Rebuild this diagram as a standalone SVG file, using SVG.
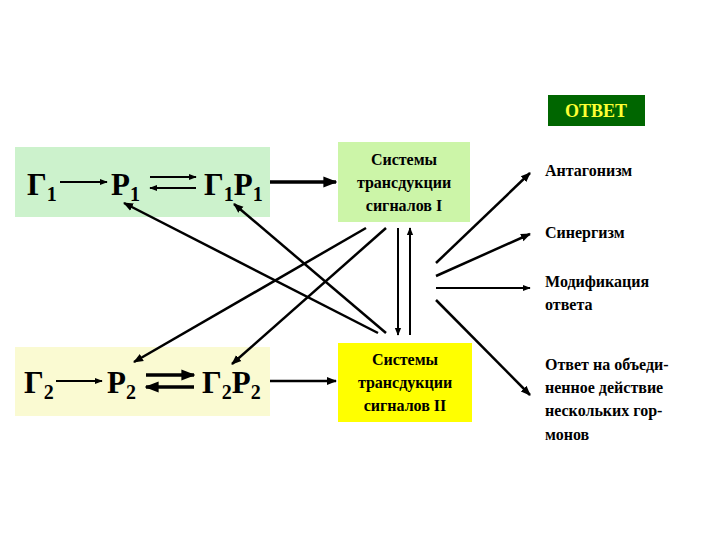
<svg xmlns="http://www.w3.org/2000/svg" width="720" height="540" viewBox="0 0 720 540">
<style>
text{font-family:"Liberation Serif",serif;font-weight:bold;fill:#000}
.big{font-size:31px}
.sub{font-size:20px}
.s{font-size:16px}
.c{text-anchor:middle}
line{stroke:#000;stroke-width:2.5}
.t{stroke-width:3.5}
.n{stroke-width:2}
</style>
<defs>
<marker id="a" viewBox="0 0 10 10" refX="9" refY="5" markerWidth="4" markerHeight="4" orient="auto-start-reverse" markerUnits="strokeWidth"><path d="M0,1 L10,5 L0,9 Z" fill="#000"/></marker>
</defs>
<rect width="720" height="540" fill="#fff"/>
<g id="row1">
<rect x="15" y="147" width="255" height="70" fill="#ccf2cc"/>
<text class="big" x="27" y="195">Г<tspan class="sub" dy="6">1</tspan></text>
<text class="big" x="111" y="195">Р<tspan class="sub" dy="6">1</tspan></text>
<text class="big" x="204" y="195">Г<tspan class="sub" dy="6">1</tspan><tspan dy="-6">Р</tspan><tspan class="sub" dy="6">1</tspan></text>
</g>
<g id="row2">
<rect x="15" y="347" width="255" height="69" fill="#fafad2"/>
<text class="big" x="24" y="393">Г<tspan class="sub" dy="6">2</tspan></text>
<text class="big" x="107" y="393">Р<tspan class="sub" dy="6">2</tspan></text>
<text class="big" x="202" y="393">Г<tspan class="sub" dy="6">2</tspan><tspan dy="-6">Р</tspan><tspan class="sub" dy="6">2</tspan></text>
</g>
<g id="sys1">
<rect x="338" y="142" width="132" height="80" fill="#ccf5a8"/>
<text class="s c" x="404" y="165">Системы</text>
<text class="s c" x="404" y="188">трансдукции</text>
<text class="s c" x="404" y="211">сигналов I</text>
</g>
<g id="sys2">
<rect x="338" y="343" width="134" height="79" fill="#ffff00"/>
<text class="s c" x="405" y="365">Системы</text>
<text class="s c" x="405" y="388">трансдукции</text>
<text class="s c" x="405" y="411">сигналов II</text>
</g>
<g id="otvet">
<rect x="548" y="95" width="97" height="31" fill="#006600"/>
<text class="s c" x="596" y="117" style="fill:#ffff33;font-size:18px">ОТВЕТ</text>
</g>
<g id="labels">
<text class="s" x="545" y="176">Антагонизм</text>
<text class="s" x="545" y="238">Синергизм</text>
<text class="s" x="545" y="287">Модификация</text>
<text class="s" x="545" y="310">ответа</text>
<text class="s" x="545" y="370">Ответ на объеди-</text>
<text class="s" x="545" y="393">ненное действие</text>
<text class="s" x="545" y="416">нескольких гор-</text>
<text class="s" x="545" y="440">монов</text>
</g>
<g id="connectors">
<line class="n" x1="60" y1="182" x2="107" y2="182" marker-end="url(#a)"/>
<line class="n" x1="150" y1="177" x2="196" y2="177" marker-end="url(#a)"/>
<line class="n" x1="196" y1="188" x2="150" y2="188" marker-end="url(#a)"/>
<line class="t" x1="270" y1="182" x2="336" y2="182" marker-end="url(#a)"/>
<line class="n" x1="56" y1="381" x2="102" y2="381" marker-end="url(#a)"/>
<line class="t" x1="146" y1="375" x2="194" y2="375" marker-end="url(#a)"/>
<line class="t" x1="194" y1="387" x2="146" y2="387" marker-end="url(#a)"/>
<line x1="270" y1="381" x2="336" y2="381" marker-end="url(#a)"/>
<line x1="378" y1="333" x2="124" y2="203" marker-end="url(#a)"/>
<line x1="386" y1="333" x2="234" y2="204" marker-end="url(#a)"/>
<line x1="366" y1="228" x2="134" y2="362" marker-end="url(#a)"/>
<line x1="386" y1="228" x2="232" y2="364" marker-end="url(#a)"/>
<line class="n" x1="398" y1="228" x2="398" y2="335" marker-end="url(#a)"/>
<line class="n" x1="410" y1="335" x2="410" y2="228" marker-end="url(#a)"/>
<line x1="436" y1="263" x2="530" y2="173" marker-end="url(#a)"/>
<line x1="436" y1="276" x2="530" y2="234" marker-end="url(#a)"/>
<line class="n" x1="436" y1="288" x2="530" y2="288" marker-end="url(#a)"/>
<line x1="436" y1="300" x2="530" y2="395" marker-end="url(#a)"/>
</g>
</svg>
